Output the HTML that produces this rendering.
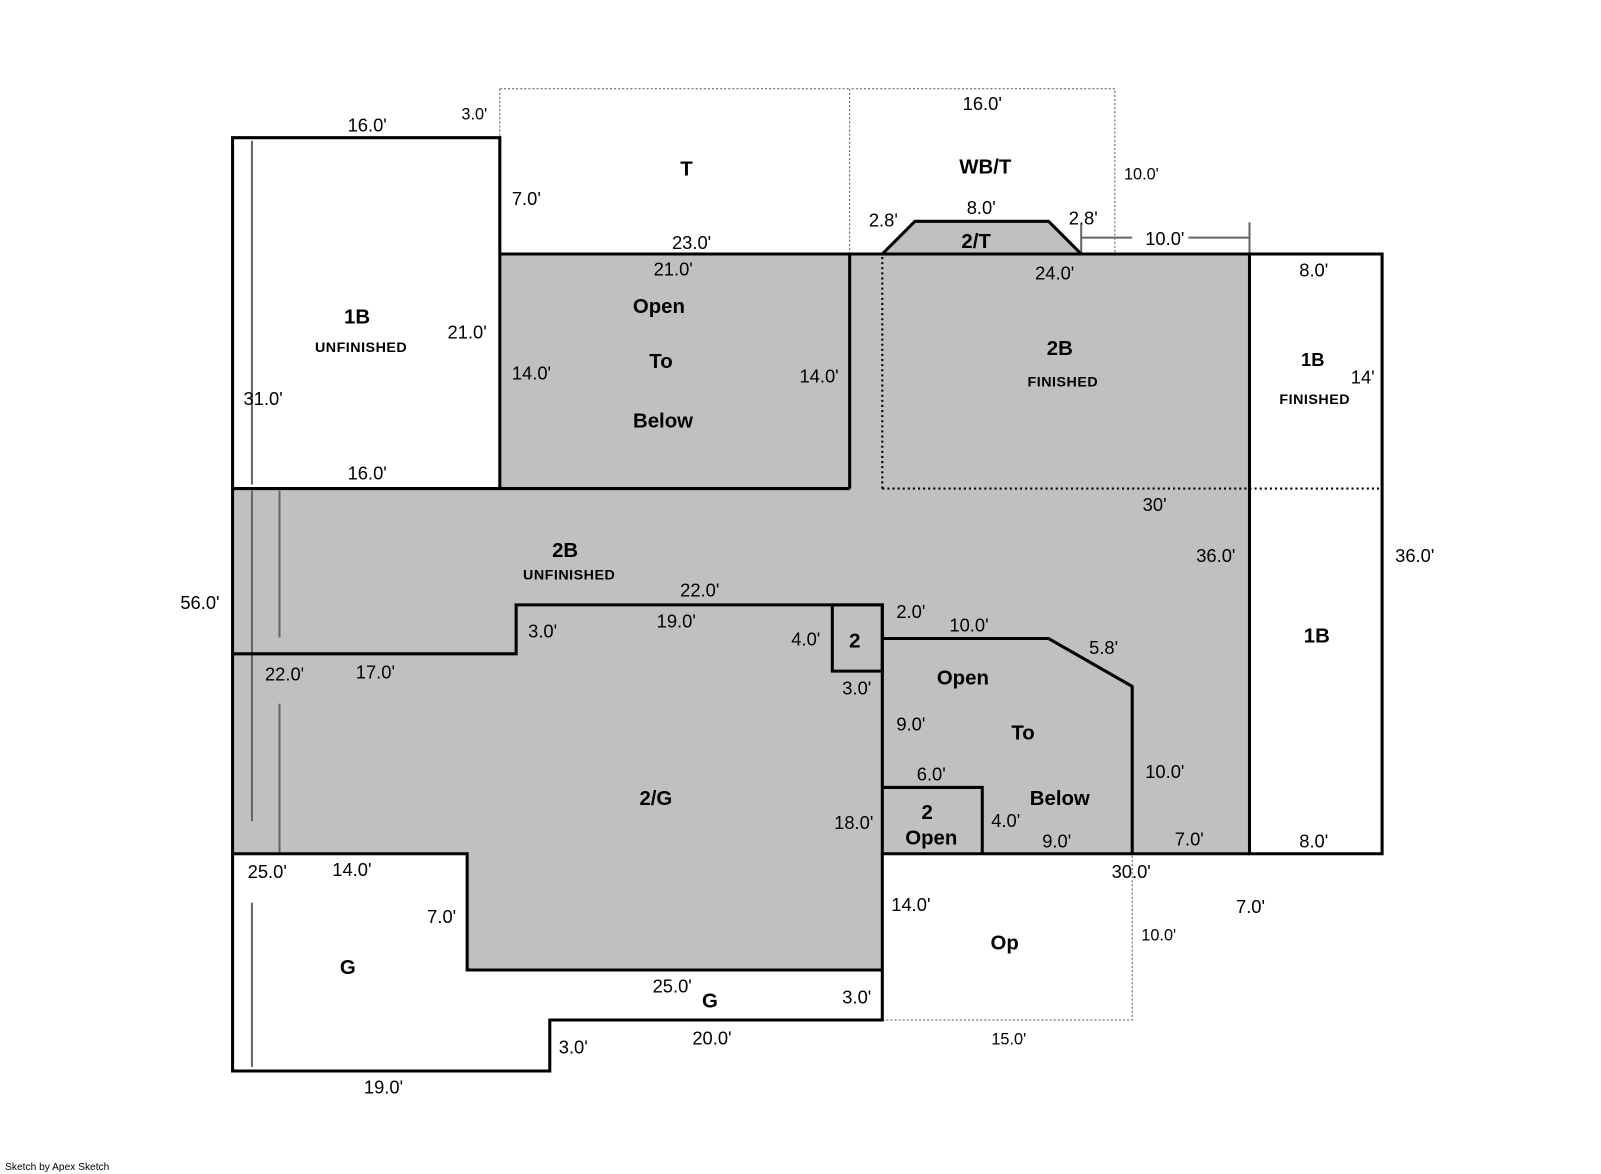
<!DOCTYPE html>
<html><head><meta charset="utf-8"><style>html,body{margin:0;padding:0;background:#fff}svg{display:block}text{font-family:"Liberation Sans",Arial,sans-serif;fill:#000}.d{font-size:18px}.r{font-size:20px;font-weight:bold}.s{font-size:14px;font-weight:bold;letter-spacing:0.5px}</style></head><body>
<svg width="1601" height="1174" viewBox="0 0 1569.6 1151" xmlns="http://www.w3.org/2000/svg">
<rect width="1569.6" height="1151" fill="#fff"/>
<!-- gray fills -->
<polygon points="490,249 1225,249 1225,837 865,837 865,951 458,951 458,837 228,837 228,479 490,479" fill="#c0c0c0"/>
<polygon points="865,249 897,217 1028,217 1060,249" fill="#c0c0c0"/>
<!-- dotted thin -->
<g stroke="#555" stroke-width="1" stroke-dasharray="2,2" fill="none">
<polyline points="833,249 833,87 1093,87 1093,249"/>
<line x1="490" y1="87" x2="833" y2="87"/>
<line x1="490" y1="87" x2="490" y2="135"/>
<polyline points="865,1000 1110,1000 1110,837"/>
</g>
<g stroke="#000" stroke-width="2" stroke-dasharray="2,3" fill="none">
<line x1="865" y1="252" x2="865" y2="479"/>
<line x1="865" y1="479" x2="1355" y2="479"/>
</g>
<!-- gray thin lines -->
<g stroke="#666" stroke-width="2" fill="none">
<line x1="247" y1="138" x2="247" y2="475"/>
<line x1="247" y1="481" x2="247" y2="805"/>
<line x1="274" y1="481" x2="274" y2="625"/>
<line x1="274" y1="690" x2="274" y2="836"/>
<line x1="247" y1="885" x2="247" y2="1046"/>
<line x1="1060" y1="220" x2="1060" y2="249"/>
<line x1="1060" y1="233" x2="1110" y2="233"/>
<line x1="1165" y1="233" x2="1225" y2="233"/>
<line x1="1225" y1="218" x2="1225" y2="249"/>
</g>
<!-- bold lines -->
<g stroke="#000" stroke-width="3" fill="none" stroke-linejoin="miter">
<polygon points="228,135 490,135 490,479 228,479"/>
<line x1="490" y1="249" x2="1355" y2="249"/>
<polygon points="1225,249 1355,249 1355,837 1225,837"/>
<line x1="833" y1="249" x2="833" y2="479"/>
<line x1="490" y1="479" x2="833" y2="479"/>
<polyline points="228,479 228,1050 539,1050 539,1000 865,1000 865,593 506,593 506,641 228,641"/>
<polyline points="228,837 458,837 458,951 865,951"/>
<polygon points="816,593 865,593 865,658 816,658"/>
<polyline points="865,626 1028,626 1110,673 1110,837"/>
<polyline points="865,772 963,772 963,837"/>
<line x1="865" y1="837" x2="1225" y2="837"/>
<polyline points="865,249 897,217 1028,217 1060,249"/>
</g>
<!-- room labels -->
<g class="r" text-anchor="middle">
<text x="673" y="172">T</text>
<text x="966" y="170">WB/T</text>
<text x="957" y="243">2/T</text>
<text x="350" y="317">1B</text>
<text x="646" y="307">Open</text>
<text x="648" y="361">To</text>
<text x="650" y="419">Below</text>
<text x="1039" y="348">2B</text>
<text x="1287" y="359" style="font-size:18px">1B</text>
<text x="554" y="546">2B</text>
<text x="838" y="635">2</text>
<text x="944" y="671">Open</text>
<text x="1003" y="725">To</text>
<text x="1039" y="789">Below</text>
<text x="643" y="789">2/G</text>
<text x="909" y="803">2</text>
<text x="913" y="828">Open</text>
<text x="1291" y="630">1B</text>
<text x="341" y="955">G</text>
<text x="696" y="988">G</text>
<text x="985" y="931">Op</text>
</g>
<g class="s" text-anchor="middle">
<text x="354" y="345">UNFINISHED</text>
<text x="1042" y="379">FINISHED</text>
<text x="1289" y="396">FINISHED</text>
<text x="558" y="568">UNFINISHED</text>
</g>
<!-- dimensions -->
<g class="d" text-anchor="middle">
<text x="360" y="129">16.0'</text>
<text x="465" y="117" style="font-size:16px">3.0'</text>
<text x="963" y="108">16.0'</text>
<text x="1119" y="176" style="font-size:16px">10.0'</text>
<text x="516" y="201">7.0'</text>
<text x="866" y="222">2.8'</text>
<text x="962" y="210">8.0'</text>
<text x="1062" y="220">2.8'</text>
<text x="1142" y="240">10.0'</text>
<text x="678" y="244">23.0'</text>
<text x="660" y="270">21.0'</text>
<text x="1034" y="274">24.0'</text>
<text x="1288" y="271">8.0'</text>
<text x="458" y="332">21.0'</text>
<text x="521" y="372">14.0'</text>
<text x="803" y="375">14.0'</text>
<text x="1336" y="376">14'</text>
<text x="258" y="397">31.0'</text>
<text x="360" y="470">16.0'</text>
<text x="1132" y="501">30'</text>
<text x="1192" y="551">36.0'</text>
<text x="1387" y="551">36.0'</text>
<text x="196" y="597">56.0'</text>
<text x="686" y="585">22.0'</text>
<text x="663" y="615">19.0'</text>
<text x="532" y="625">3.0'</text>
<text x="790" y="633">4.0'</text>
<text x="893" y="606">2.0'</text>
<text x="950" y="619">10.0'</text>
<text x="1082" y="641">5.8'</text>
<text x="279" y="667">22.0'</text>
<text x="368" y="665">17.0'</text>
<text x="840" y="681">3.0'</text>
<text x="893" y="716">9.0'</text>
<text x="913" y="765">6.0'</text>
<text x="1142" y="763">10.0'</text>
<text x="837" y="813">18.0'</text>
<text x="986" y="811">4.0'</text>
<text x="1036" y="831">9.0'</text>
<text x="1166" y="829">7.0'</text>
<text x="1288" y="831">8.0'</text>
<text x="262" y="861">25.0'</text>
<text x="345" y="859">14.0'</text>
<text x="1109" y="861">30.0'</text>
<text x="893" y="893">14.0'</text>
<text x="1226" y="895">7.0'</text>
<text x="433" y="905">7.0'</text>
<text x="1136" y="922" style="font-size:16px">10.0'</text>
<text x="659" y="973">25.0'</text>
<text x="840" y="984">3.0'</text>
<text x="698" y="1024">20.0'</text>
<text x="989" y="1024" style="font-size:16px">15.0'</text>
<text x="562" y="1033">3.0'</text>
<text x="376" y="1072">19.0'</text>
</g>
<text x="5" y="1147" style="font-size:10px">Sketch by Apex Sketch</text>
</svg>
</body></html>
